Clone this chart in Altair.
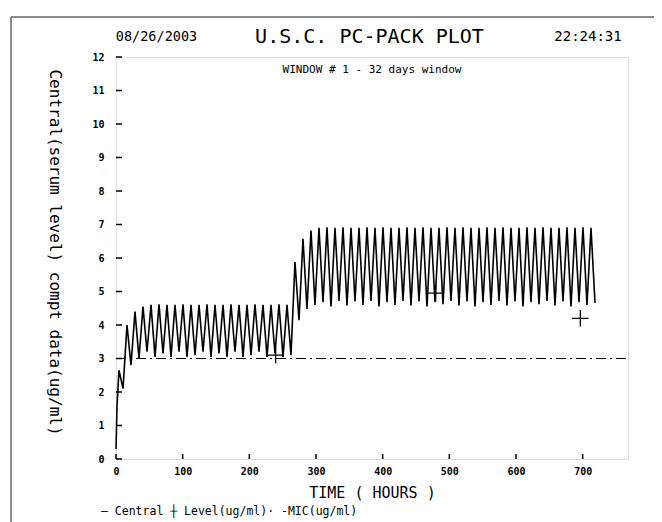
import altair as alt
import pandas as pd

# ---- data ----
dose_interval_h = 12
first_peak_h = 4.5
first_trough_h = 10.5
start_times = [0.0, 1.5]
start_values = [0.3, 1.6]

phase1_peaks = [2.65, 4.0, 4.4, 4.55, 4.6, 4.62, 4.6, 4.6, 4.62, 4.6, 4.6,
                4.62, 4.6, 4.6, 4.62, 4.6, 4.6, 4.62, 4.6, 4.6, 4.62, 4.6]
phase1_troughs = [2.1, 2.8, 3.0, 3.2, 3.05, 3.15, 3.05, 3.2, 3.05, 3.1, 3.2,
                  3.05, 3.15, 3.05, 3.2, 3.05, 3.1, 3.2, 3.05, 3.15, 3.05, 3.1]
phase2_peaks = [5.88, 6.57, 6.82, 6.9, 6.92, 6.9, 6.92, 6.9, 6.9, 6.92,
                6.9, 6.92, 6.9, 6.9, 6.92, 6.9, 6.92, 6.9, 6.9, 6.92,
                6.9, 6.92, 6.9, 6.9, 6.92, 6.9, 6.92, 6.9, 6.9, 6.92,
                6.9, 6.92, 6.9, 6.9, 6.92, 6.9, 6.92, 6.9]
phase2_troughs = [4.14, 4.48, 4.6, 4.68, 4.55, 4.72, 4.58, 4.7, 4.6, 4.72,
                  4.55, 4.68, 4.6, 4.72, 4.58, 4.7, 4.55, 4.68, 4.62, 4.72,
                  4.58, 4.7, 4.55, 4.68, 4.6, 4.72, 4.58, 4.7, 4.55, 4.68,
                  4.62, 4.72, 4.58, 4.7, 4.55, 4.68, 4.6, 4.66]

level_times = [239.5, 479.5, 696.5]
level_values = [3.1, 4.95, 4.2]

mic_value = 3.0
x_domain = [0, 768]
y_domain = [0, 12]
x_ticks = [0, 100, 200, 300, 400, 500, 600, 700]
y_ticks = [0, 1, 2, 3, 4, 5, 6, 7, 8, 9, 10, 11, 12]

# ---- build tables ----
peaks = phase1_peaks + phase2_peaks
troughs = phase1_troughs + phase2_troughs
rows = list(zip(start_times, start_values))
for k, (p, tr) in enumerate(zip(peaks, troughs)):
    rows.append((first_peak_h + dose_interval_h * k, p))
    rows.append((first_trough_h + dose_interval_h * k, tr))
curve_df = pd.DataFrame(rows, columns=["t", "c"]).sort_values("t")
level_df = pd.DataFrame({"t": level_times, "c": level_values})
mic_df = pd.DataFrame({"t": [x_domain[0]], "t1": [x_domain[1]], "c": [mic_value]})
xt_df = pd.DataFrame({"t": x_ticks})
yt_df = pd.DataFrame({"c": y_ticks})

W, H = 512, 402
MONO = "DejaVu Sans Mono"

xs = alt.Scale(domain=x_domain, nice=False, zero=False)
ys = alt.Scale(domain=y_domain, nice=False)

x_axis = alt.Axis(values=x_ticks, ticks=False, domain=False, grid=False,
                  labelFont=MONO, labelFontSize=10, labelFontWeight="bold",
                  labelColor="#000", labelPadding=7, labelFlush=False, labelAngle=0,
                  labelOverlap=False,
                  title="TIME ( HOURS )", titleFont=MONO, titleFontSize=15,
                  titleFontWeight="normal", titleColor="#000", titleY=33,
                  titleBaseline="middle")
y_axis = alt.Axis(values=y_ticks, ticks=False, domain=False, grid=False,
                  labelFont=MONO, labelFontSize=10, labelFontWeight="bold",
                  labelColor="#000", labelPadding=12, labelFlush=False,
                  labelOverlap=False,
                  title="Central(serum level) compt data(ug/ml)", titleFont=MONO,
                  titleFontSize=16, titleFontWeight="normal", titleColor="#000",
                  titleAngle=90, titleX=-62, titleY=195, titleAlign="center",
                  titleBaseline="middle")


def X(field):
    return alt.X(field, type="quantitative", scale=xs, axis=x_axis)


def Y(field):
    return alt.Y(field, type="quantitative", scale=ys, axis=y_axis)


curve = alt.Chart(curve_df).mark_line(color="#000", strokeWidth=1.6).encode(
    x=X("t"), y=Y("c"), order="t:Q")

mic = alt.Chart(mic_df).mark_rule(color="#000", strokeWidth=1.2,
                                  strokeDash=[10, 4, 2, 4]).encode(
    x=X("t"), x2="t1:Q", y=Y("c"))

levels = alt.Chart(level_df).mark_point(shape="M-1,0L1,0M0,-1L0,1", size=270,
                                        filled=False, color="#000",
                                        strokeWidth=1.3, opacity=1).encode(
    x=X("t"), y=Y("c"))

xticks = alt.Chart(xt_df).mark_rule(color="#000", strokeWidth=1.5).encode(
    x=X("t"), y=alt.value(H), y2=alt.value(H - 5))
yticks = alt.Chart(yt_df).mark_rule(color="#000", strokeWidth=1.5).encode(
    y=Y("c"), x=alt.value(0), x2=alt.value(6))


def label(text, x, y, size, align="center", weight="normal"):
    return alt.Chart(pd.DataFrame({"s": [text]})).mark_text(
        font=MONO, fontSize=size, align=align, baseline="middle",
        color="#000", fontWeight=weight).encode(
        text="s:N", x=alt.value(x), y=alt.value(y))


date_t = label("08/26/2003", 40.5, -20, 13.5)
title_t = label("U.S.C.  PC-PACK  PLOT", 253.5, -20, 20)
time_t = label("22:24:31", 472, -20, 14)
window_t = label("WINDOW # 1 - 32 days window", 256, 13, 11)
legend_t = label("— Central ┼ Level(ug/ml)· -MIC(ug/ml)", -15, 455, 11.5, align="left")

top_border = alt.Chart(pd.DataFrame({"a": [0]})).mark_rule(color="#666", strokeWidth=1.5).encode(
    x=alt.value(-105), x2=alt.value(560), y=alt.value(-40))
left_border = alt.Chart(pd.DataFrame({"a": [0]})).mark_rule(color="#666", strokeWidth=1.5).encode(
    x=alt.value(-105), y=alt.value(-40), y2=alt.value(470))

chart = alt.layer(
    curve, top_border, left_border, mic, levels, xticks, yticks,
    date_t, title_t, time_t, window_t, legend_t,
).properties(
    width=W, height=H,
    padding={"left": 108, "top": 49, "right": 26, "bottom": 63},
    autosize=alt.AutoSizeParams(type="none"),
).configure_view(stroke="#111", strokeWidth=2).configure(background="white")

chart.save("out.html", embed_options={"renderer": "svg", "actions": False})
